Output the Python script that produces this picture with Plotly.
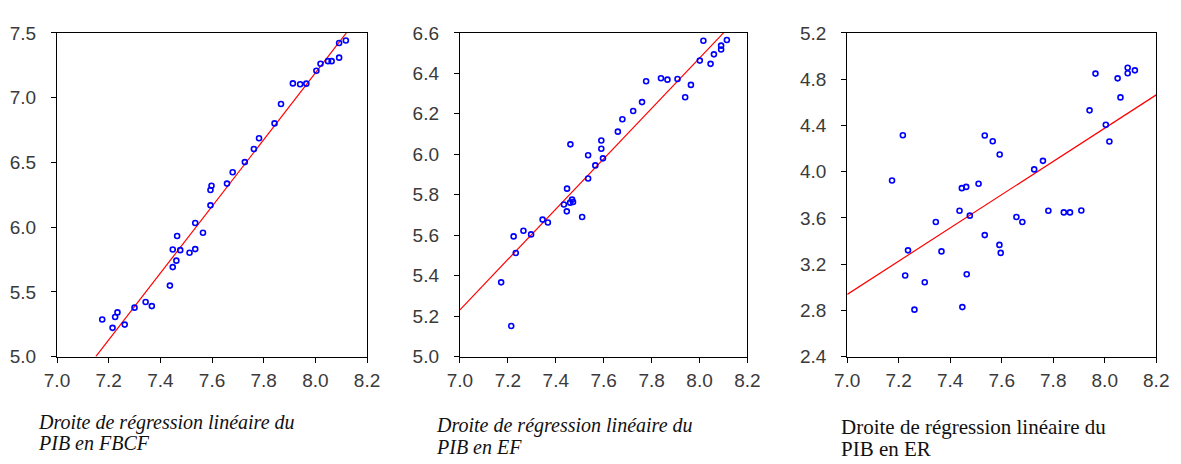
import plotly.graph_objects as go

# ---------------- data ----------------
fbcf_x = [7.175, 7.215, 7.225, 7.234, 7.262, 7.300, 7.343, 7.367, 7.437, 7.448, 7.448, 7.462,
          7.465, 7.477, 7.513, 7.535, 7.535, 7.565, 7.594, 7.594, 7.598, 7.658, 7.680, 7.727,
          7.762, 7.782, 7.842, 7.867, 7.913, 7.941, 7.965, 8.004, 8.020, 8.049, 8.063, 8.092,
          8.092, 8.118]
fbcf_y = [5.286, 5.222, 5.306, 5.341, 5.247, 5.378, 5.422, 5.390, 5.548, 5.691, 5.827, 5.741,
          5.931, 5.822, 5.802, 6.032, 5.830, 5.956, 6.168, 6.287, 6.319, 6.336, 6.424, 6.502,
          6.603, 6.686, 6.801, 6.951, 7.110, 7.103, 7.108, 7.208, 7.262, 7.282, 7.282, 7.309,
          7.422, 7.441]
fbcf_fit_x = [7.150, 8.120]
fbcf_fit_y = [5.000, 7.500]

ef_x = [7.172, 7.214, 7.224, 7.233, 7.265, 7.297, 7.345, 7.367, 7.434, 7.446, 7.447, 7.460,
        7.461, 7.468, 7.472, 7.510, 7.535, 7.535, 7.565, 7.590, 7.590, 7.597, 7.659, 7.678,
        7.723, 7.760, 7.777, 7.839, 7.866, 7.908, 7.940, 7.964, 8.001, 8.016, 8.046, 8.060,
        8.090, 8.090, 8.114]
ef_y = [5.367, 5.151, 5.594, 5.512, 5.622, 5.604, 5.677, 5.663, 5.752, 5.718, 5.830, 5.761,
        6.049, 5.776, 5.764, 5.690, 5.995, 5.880, 5.945, 6.068, 6.027, 5.980, 6.112, 6.173,
        6.214, 6.258, 6.361, 6.376, 6.369, 6.372, 6.282, 6.343, 6.463, 6.561, 6.447, 6.494,
        6.537, 6.518, 6.565]
ef_fit_x = [7.000, 8.100]
ef_fit_y = [5.231, 6.600]

er_x = [7.174, 7.216, 7.225, 7.236, 7.261, 7.301, 7.344, 7.366, 7.436, 7.445, 7.447, 7.462,
        7.464, 7.476, 7.510, 7.534, 7.534, 7.565, 7.591, 7.592, 7.596, 7.657, 7.680, 7.726,
        7.760, 7.781, 7.841, 7.865, 7.909, 7.941, 7.964, 8.004, 8.018, 8.050, 8.061, 8.089,
        8.089, 8.117]
er_y = [3.923, 4.315, 3.101, 3.319, 2.806, 3.043, 3.564, 3.310, 3.661, 3.857, 2.828, 3.868,
        3.112, 3.619, 3.895, 4.313, 3.451, 4.263, 3.366, 4.148, 3.297, 3.608, 3.564, 4.019,
        4.093, 3.661, 3.647, 3.647, 3.663, 4.530, 4.848, 4.406, 4.260, 4.807, 4.642, 4.898,
        4.851, 4.876]
er_fit_x = [7.000, 8.200]
er_fit_y = [2.938, 4.664]

x_ticks = [7.0, 7.2, 7.4, 7.6, 7.8, 8.0, 8.2]
fbcf_y_ticks = [5.0, 5.5, 6.0, 6.5, 7.0, 7.5]
ef_y_ticks = [5.0, 5.2, 5.4, 5.6, 5.8, 6.0, 6.2, 6.4, 6.6]
er_y_ticks = [2.4, 2.8, 3.2, 3.6, 4.0, 4.4, 4.8, 5.2]

captions = [
    ("Droite de régression linéaire du", "PIB en FBCF"),
    ("Droite de régression linéaire du", "PIB en EF"),
    ("Droite de régression linéaire du", "PIB en ER"),
]

# ---------------- figure ----------------
W, H = 1181, 464
panels = [
    (45, 362, fbcf_x, fbcf_y, fbcf_fit_x, fbcf_fit_y, fbcf_y_ticks, [5.0, 7.5]),
    (457, 751, ef_x, ef_y, ef_fit_x, ef_fit_y, ef_y_ticks, [5.0, 6.6]),
    (853, 1169, er_x, er_y, er_fit_x, er_fit_y, er_y_ticks, [2.4, 5.2]),
]
top_px, bot_px = 24, 363
ydom = [(H - bot_px) / H, (H - top_px) / H]

tick_font = dict(family="Liberation Sans, Arial, sans-serif", size=19, color="#3a3a3a")

fig = go.Figure()
layout = dict(
    width=W, height=H,
    margin=dict(l=0, r=0, t=0, b=0),
    paper_bgcolor="white", plot_bgcolor="white",
    showlegend=False,
)

for i, (xl, xr, xs, ys, fx, fy, yt, yr) in enumerate(panels):
    k = "" if i == 0 else str(i + 1)
    fig.add_trace(go.Scatter(
        x=fx, y=fy, mode="lines",
        line=dict(color="#ff0000", width=1.2),
        xaxis="x" + k, yaxis="y" + k, hoverinfo="skip"))
    fig.add_trace(go.Scatter(
        x=xs, y=ys, mode="markers",
        marker=dict(symbol="circle-open", size=5, color="#0000ff",
                    line=dict(width=1.6, color="#0000ff")),
        xaxis="x" + k, yaxis="y" + k, cliponaxis=False))
    axis_common = dict(
        showline=True, linecolor="black", linewidth=1.2, mirror=True,
        ticks="outside", ticklen=5, tickwidth=1.2, tickcolor="black",
        showgrid=False, zeroline=False, tickfont=tick_font,
    )
    layout["xaxis" + k] = dict(
        domain=[xl / W, xr / W], range=[7.0, 8.2], tickvals=x_ticks,
        ticktext=["%.1f" % v for v in x_ticks], anchor="y" + k,
        ticklabelstandoff=2, **axis_common)
    layout["yaxis" + k] = dict(
        domain=ydom, range=yr, tickvals=yt,
        ticktext=["%.1f" % v for v in yt], anchor="x" + k,
        ticklabelstandoff=11, **axis_common)

fig.update_layout(**layout)

# captions: one annotation per line
cap_specs = [
    # x_px, baseline line1, baseline line2, italic, size
    (25, 428, 450, True, 20),
    (432, 432, 454, True, 20),
    (846, 434, 457, False, 21),
]
for (l1, l2), (xp, b1, b2, ital, sz) in zip(captions, cap_specs):
    for txt, b in ((l1, b1), (l2, b2)):
        fig.add_annotation(
            xref="paper", yref="paper",
            x=xp / W, y=(H - (b - 0.32 * sz + 10)) / H,
            xanchor="left", yanchor="middle", align="left",
            text=txt, showarrow=False, borderpad=0,
            font=dict(family="Liberation Serif, Times New Roman, serif",
                      size=sz, color="#111111",
                      style="italic" if ital else "normal"),
        )

fig.write_html("out.html")
